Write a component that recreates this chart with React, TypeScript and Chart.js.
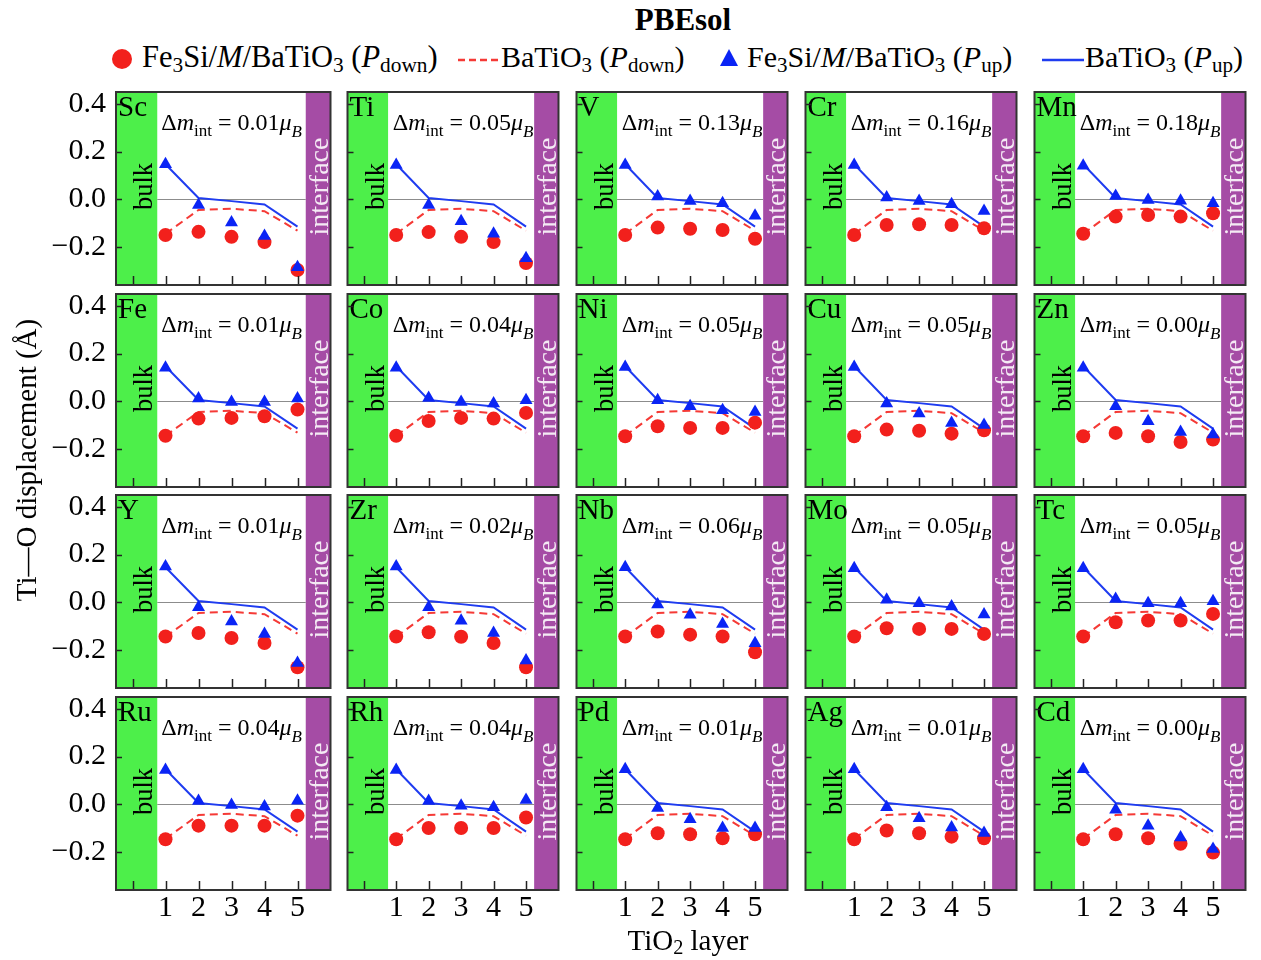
import React, { useEffect, useRef } from 'react';
import { Chart, registerables } from 'chart.js';

Chart.register(...registerables);

const FONT = "'Liberation Serif', 'Times New Roman', Times, serif";

// ---------- data ----------
const metals = ['Sc', 'Ti', 'V', 'Cr', 'Mn', 'Fe', 'Co', 'Ni', 'Cu', 'Zn', 'Y', 'Zr', 'Nb', 'Mo', 'Tc', 'Ru', 'Rh', 'Pd', 'Ag', 'Cd'];
const deltaM = ['0.01', '0.05', '0.13', '0.16', '0.18', '0.01', '0.04', '0.05', '0.05', '0.00', '0.01', '0.02', '0.06', '0.05', '0.05', '0.04', '0.04', '0.01', '0.01', '0.00'];
const layers = [1, 2, 3, 4, 5];
const xTickValues = [0, 1, 2, 3, 4, 5];
const yTickValues = [-0.2, 0, 0.2, 0.4];

// BaTiO3 reference (same in every panel)
const batioUp = [0.147, 0.005, -0.008, -0.022, -0.115];
const batioDown = [-0.145, -0.045, -0.04, -0.05, -0.132];

// Fe3Si/M/BaTiO3, P_down (circles), one row per metal
const pDownValues = [
  [-0.15, -0.137, -0.158, -0.18, -0.297], // Sc
  [-0.15, -0.138, -0.158, -0.18, -0.268], // Ti
  [-0.15, -0.119, -0.124, -0.129, -0.166], // V
  [-0.15, -0.108, -0.105, -0.108, -0.122], // Cr
  [-0.145, -0.073, -0.066, -0.073, -0.059], // Mn
  [-0.145, -0.073, -0.07, -0.063, -0.035], // Fe
  [-0.145, -0.083, -0.07, -0.073, -0.049], // Co
  [-0.147, -0.105, -0.112, -0.112, -0.09], // Ni
  [-0.147, -0.119, -0.124, -0.136, -0.122], // Cu
  [-0.147, -0.133, -0.147, -0.171, -0.161], // Zn
  [-0.144, -0.129, -0.15, -0.171, -0.273], // Y
  [-0.144, -0.126, -0.145, -0.171, -0.273], // Zr
  [-0.144, -0.123, -0.136, -0.144, -0.21], // Nb
  [-0.144, -0.109, -0.112, -0.112, -0.133], // Mo
  [-0.144, -0.084, -0.077, -0.077, -0.049], // Tc
  [-0.147, -0.09, -0.09, -0.09, -0.048], // Ru
  [-0.147, -0.1, -0.1, -0.1, -0.056], // Rh
  [-0.147, -0.122, -0.126, -0.143, -0.126], // Pd
  [-0.147, -0.11, -0.122, -0.136, -0.143], // Ag
  [-0.147, -0.126, -0.143, -0.166, -0.203], // Cd
];

// Fe3Si/M/BaTiO3, P_up (triangles), one row per metal
const pUpValues = [
  [0.147, -0.024, -0.098, -0.154, -0.285], // Sc
  [0.144, -0.024, -0.092, -0.145, -0.248], // Ti
  [0.144, 0.011, -0.007, -0.017, -0.069], // V
  [0.144, 0.007, -0.007, -0.021, -0.049], // Cr
  [0.141, 0.014, -0.003, -0.006, -0.017], // Mn
  [0.141, 0.011, -0.003, -0.003, 0.011], // Fe
  [0.141, 0.014, -0.003, -0.01, 0.004], // Co
  [0.144, 0.004, -0.021, -0.038, -0.045], // Ni
  [0.144, -0.01, -0.052, -0.091, -0.1], // Cu
  [0.141, -0.021, -0.084, -0.129, -0.14], // Zn
  [0.15, -0.021, -0.081, -0.133, -0.255], // Y
  [0.15, -0.021, -0.078, -0.129, -0.245], // Zr
  [0.147, -0.01, -0.053, -0.091, -0.172], // Nb
  [0.143, 0.01, -0.004, -0.018, -0.052], // Mo
  [0.143, 0.014, -0.004, -0.004, 0.004], // Tc
  [0.144, 0.014, -0.003, -0.01, 0.015], // Ru
  [0.144, 0.014, -0.006, -0.013, 0.018], // Rh
  [0.147, -0.016, -0.063, -0.1, -0.1], // Pd
  [0.147, -0.013, -0.059, -0.098, -0.121], // Ag
  [0.147, -0.023, -0.09, -0.14, -0.188], // Cd
];

// ---------- styling ----------
const RED = '#f2201c';
const RED_LINE = '#f53a36';
const BLUE = '#0a24f5';
const BLUE_LINE = '#1f3cf0';
const GREEN = '#4def4a';
const PURPLE = '#a54ca5';

const PANEL_LEFT0 = 115.7;
const PANEL_PITCH_X = 228.75;
const PANEL_TOP0 = 92;
const PANEL_PITCH_Y = 201.6;
const PANEL_W = 218;
const PANEL_H = 193;

function drawDm(ctx: CanvasRenderingContext2D, right: number, baseline: number, dm: string) {
  const segs = [
    { t: '\u0394', f: `24px ${FONT}`, dy: 0 },
    { t: 'm', f: `italic 24px ${FONT}`, dy: 0 },
    { t: 'int', f: `17px ${FONT}`, dy: 6 },
    { t: ` = ${dm}`, f: `24px ${FONT}`, dy: 0 },
    { t: '\u03bc', f: `italic 24px ${FONT}`, dy: 0 },
    { t: 'B', f: `italic 17px ${FONT}`, dy: 7 },
  ];
  let total = 0;
  const widths = segs.map((s) => {
    ctx.font = s.f;
    const w = ctx.measureText(s.t).width;
    total += w;
    return w;
  });
  let x = right - total;
  ctx.fillStyle = '#000';
  ctx.textAlign = 'left';
  ctx.textBaseline = 'alphabetic';
  segs.forEach((s, i) => {
    ctx.font = s.f;
    ctx.fillText(s.t, x, baseline + s.dy);
    x += widths[i];
  });
}

function Panel({ index }: { index: number }) {
  const ref = useRef<HTMLCanvasElement>(null);
  const col = index % 5;
  const row = Math.floor(index / 5);
  const showY = col === 0;
  const showX = row === 3;
  const yW = showY ? 70 : 0;
  const xH = showX ? 40 : 0;
  const padL = 4;
  const padR = 4;
  const padT = 34;
  const padB = showX ? 4 : 34;
  const panelLeft = Math.round(PANEL_LEFT0 + col * PANEL_PITCH_X);
  const panelTop = Math.round(PANEL_TOP0 + row * PANEL_PITCH_Y);
  const cw = PANEL_W + padL + padR + yW;
  const ch = PANEL_H + padT + padB + xH;
  const left = panelLeft - padL - yW;
  const top = panelTop - padT;

  useEffect(() => {
    if (!ref.current) return;
    const name = metals[index];
    const dm = deltaM[index];
    const decor = {
      id: 'decor',
      beforeDatasetsDraw(chart: any) {
        const { ctx, chartArea: a, scales } = chart;
        const x = scales.x;
        const y = scales.y;
        ctx.save();
        const gx = x.getPixelForValue(0.75);
        const px = x.getPixelForValue(5.25);
        ctx.fillStyle = GREEN;
        ctx.fillRect(a.left, a.top, gx - a.left, a.bottom - a.top);
        ctx.fillStyle = PURPLE;
        ctx.fillRect(px, a.top, a.right - px, a.bottom - a.top);
        const y0 = Math.round(y.getPixelForValue(0)) + 0.5;
        ctx.strokeStyle = '#8c8c8c';
        ctx.lineWidth = 1;
        ctx.beginPath();
        ctx.moveTo(gx, y0);
        ctx.lineTo(px, y0);
        ctx.stroke();

        ctx.fillStyle = '#000';
        ctx.textAlign = 'left';
        ctx.textBaseline = 'alphabetic';
        ctx.font = `29px ${FONT}`;
        ctx.fillText(name, a.left + 2, a.top + 24);

        ctx.save();
        ctx.translate(a.left + 36, a.top + 94.5);
        ctx.rotate(-Math.PI / 2);
        ctx.textAlign = 'center';
        ctx.font = `26.5px ${FONT}`;
        ctx.fillStyle = '#000';
        ctx.fillText('bulk', 0, 0);
        ctx.restore();

        ctx.save();
        ctx.translate(a.right - 3, a.top + 94.5);
        ctx.rotate(-Math.PI / 2);
        ctx.textAlign = 'center';
        ctx.font = `28px ${FONT}`;
        ctx.fillStyle = '#f4eaf4';
        ctx.fillText('interface', 0, 0);
        ctx.restore();

        drawDm(ctx, a.left + 186, a.top + 38, dm);
        ctx.restore();
      },
      afterDraw(chart: any) {
        const { ctx, chartArea: a, scales } = chart;
        ctx.save();
        ctx.strokeStyle = '#222';
        ctx.lineWidth = 1.5;
        ctx.beginPath();
        yTickValues.forEach((v) => {
          const py = Math.round(scales.y.getPixelForValue(v)) + 0.5;
          ctx.moveTo(a.left, py);
          ctx.lineTo(a.left + 6, py);
        });
        xTickValues.forEach((v) => {
          const px = Math.round(scales.x.getPixelForValue(v)) + 0.5;
          ctx.moveTo(px, a.bottom);
          ctx.lineTo(px, a.bottom - 9);
        });
        ctx.stroke();
        ctx.strokeStyle = '#333';
        ctx.lineWidth = 2;
        ctx.strokeRect(a.left, a.top, a.right - a.left, a.bottom - a.top);
        ctx.restore();
      },
    };

    const chart = new Chart(ref.current, {
      type: 'scatter',
      data: {
        datasets: [
          {
            type: 'scatter',
            label: 'Fe3Si/M/BaTiO3 (P_down)',
            data: layers.map((l, i) => ({ x: l, y: pDownValues[index][i] })),
            pointStyle: 'circle',
            pointRadius: 7,
            backgroundColor: RED,
            borderColor: RED,
            borderWidth: 0,
            order: 2,
          } as any,
          {
            type: 'line',
            label: 'BaTiO3 (P_down)',
            data: layers.map((l, i) => ({ x: l, y: batioDown[i] })),
            borderColor: RED_LINE,
            borderWidth: 2,
            borderDash: [8, 5],
            pointRadius: 0,
            fill: false,
            tension: 0,
            order: 4,
          } as any,
          {
            type: 'scatter',
            label: 'Fe3Si/M/BaTiO3 (P_up)',
            data: layers.map((l, i) => ({ x: l, y: pUpValues[index][i] })),
            pointStyle: 'triangle',
            pointRadius: 7.5,
            backgroundColor: BLUE,
            borderColor: BLUE,
            borderWidth: 0,
            order: 1,
          } as any,
          {
            type: 'line',
            label: 'BaTiO3 (P_up)',
            data: layers.map((l, i) => ({ x: l, y: batioUp[i] })),
            borderColor: BLUE_LINE,
            borderWidth: 2,
            pointRadius: 0,
            fill: false,
            tension: 0,
            order: 3,
          } as any,
        ],
      },
      options: {
        responsive: false,
        animation: false,
        devicePixelRatio: 1,
        events: [],
        layout: { padding: { left: padL, right: padR, top: padT, bottom: padB } },
        plugins: {
          legend: { display: false },
          tooltip: { enabled: false },
          title: { display: false },
        },
        scales: {
          x: {
            type: 'linear',
            min: -0.5,
            max: 6,
            display: showX,
            grid: { display: false, drawTicks: false },
            border: { display: false },
            afterBuildTicks: (s: any) => {
              s.ticks = xTickValues.map((v) => ({ value: v }));
            },
            afterFit: (s: any) => {
              s.height = xH;
            },
            ticks: {
              font: { family: FONT, size: 30 },
              color: '#000',
              padding: 0,
              maxRotation: 0,
              autoSkip: false,
              callback: (v: any) => (v === 0 ? '' : String(v)),
            },
          },
          y: {
            type: 'linear',
            min: -0.36,
            max: 0.45,
            display: showY,
            grid: { display: false, drawTicks: false },
            border: { display: false },
            afterBuildTicks: (s: any) => {
              s.ticks = yTickValues.map((v) => ({ value: v }));
            },
            afterFit: (s: any) => {
              s.width = yW;
            },
            ticks: {
              font: { family: FONT, size: 30 },
              color: '#000',
              padding: 10,
              autoSkip: false,
              callback: (v: any) =>
                v < 0 ? '\u2212' + Math.abs(v).toFixed(1) : Number(v).toFixed(1),
            },
          },
        },
      } as any,
      plugins: [decor],
    });
    return () => chart.destroy();
  }, [index]);

  return (
    <canvas
      ref={ref}
      width={cw}
      height={ch}
      style={{ position: 'absolute', left, top, width: cw, height: ch }}
    />
  );
}

const Sub = ({ children }: { children: React.ReactNode }) => (
  <span style={{ fontSize: '0.7em', position: 'relative', top: '0.22em' }}>{children}</span>
);

function textStyle(left: number, top: number, size: number): React.CSSProperties {
  return {
    position: 'absolute',
    left,
    top,
    fontSize: size,
    lineHeight: `${size}px`,
    whiteSpace: 'nowrap',
    color: '#000',
    fontFamily: FONT,
  };
}

export default function App() {
  return (
    <div
      style={{
        position: 'absolute',
        left: 0,
        top: 0,
        width: 1261,
        height: 960,
        background: '#fff',
        fontFamily: FONT,
        overflow: 'hidden',
      }}
    >
      <div style={{ ...textStyle(583, 4, 31), width: 200, textAlign: 'center', fontWeight: 'bold' }}>PBEsol</div>

      {/* legend */}
      <div
        style={{ position: 'absolute', left: 112, top: 49, width: 20, height: 20, borderRadius: '50%', background: RED }}
      />
      <div style={textStyle(142, 42, 30.5)}>
        Fe<Sub>3</Sub>Si/<i>M</i>/BaTiO<Sub>3</Sub> (<i>P</i>
        <Sub>down</Sub>)
      </div>
      <svg style={{ position: 'absolute', left: 458, top: 50 }} width={40} height={20}>
        <line x1={0} y1={10} x2={40} y2={10} stroke={RED_LINE} strokeWidth={2.5} strokeDasharray="7,4" />
      </svg>
      <div style={textStyle(501, 42, 30)}>
        BaTiO<Sub>3</Sub> (<i>P</i>
        <Sub>down</Sub>)
      </div>
      <svg style={{ position: 'absolute', left: 719, top: 48 }} width={20} height={20}>
        <polygon points="10,1 19,18 1,18" fill={BLUE} />
      </svg>
      <div style={textStyle(747, 42, 30)}>
        Fe<Sub>3</Sub>Si/<i>M</i>/BaTiO<Sub>3</Sub> (<i>P</i>
        <Sub>up</Sub>)
      </div>
      <svg style={{ position: 'absolute', left: 1042, top: 50 }} width={42} height={20}>
        <line x1={0} y1={10} x2={42} y2={10} stroke={BLUE_LINE} strokeWidth={2.5} />
      </svg>
      <div style={textStyle(1085, 42, 30)}>
        BaTiO<Sub>3</Sub> (<i>P</i>
        <Sub>up</Sub>)
      </div>

      {metals.map((m, i) => (
        <Panel key={m} index={i} />
      ))}

      {/* axis titles */}
      <div
        style={{
          ...textStyle(26 - 200, 460 - 17, 29),
          width: 400,
          height: 34,
          lineHeight: '34px',
          textAlign: 'center',
          transform: 'rotate(-90deg)',
          transformOrigin: '50% 50%',
        }}
      >
        Ti—O displacement (Å)
      </div>
      <div style={{ ...textStyle(488, 926, 29), width: 400, textAlign: 'center' }}>
        TiO<Sub>2</Sub> layer
      </div>
    </div>
  );
}
